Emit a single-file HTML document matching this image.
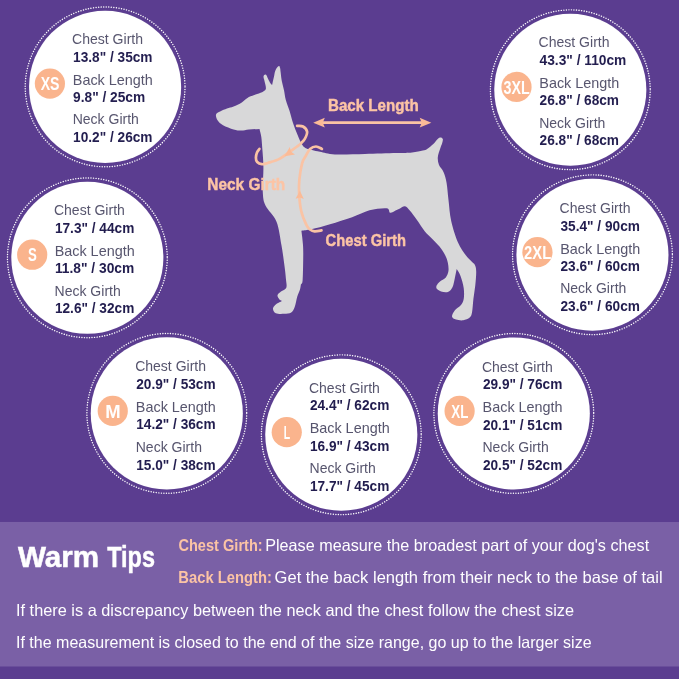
<!DOCTYPE html>
<html lang="en"><head><meta charset="utf-8"><title>Dog Size Chart</title>
<style>
html,body{margin:0;padding:0;background:#5b3d90;}
body{width:679px;height:679px;overflow:hidden;}
svg{display:block}
text{font-family:"Liberation Sans",Arial,sans-serif;}
.lab{font-size:14.4px;fill:#56546d;}
.val{font-size:14px;font-weight:bold;fill:#211c4e;}
.bdg{font-size:17.6px;font-weight:bold;fill:#fff;text-anchor:middle;}
.pk{font-weight:bold;fill:#fcc4a5;}
.dl{font-size:16.8px;stroke:#fcc4a5;stroke-width:0.45px;}
.tip{font-size:16.5px;fill:#fff;}
</style></head><body>
<svg width="679" height="679" viewBox="0 0 679 679" style="will-change:transform;transform:rotate(0.003deg)">
<rect width="679" height="679" fill="#5b3d90"/>
<path d="M215.9,115.3C215.9,114.0 216.7,113.5 217.5,112.8C218.3,112.1 219.0,111.9 220.6,111.2C222.2,110.5 224.8,109.4 227.0,108.6C229.2,107.8 231.1,107.5 233.6,106.5C236.1,105.5 239.2,104.0 241.8,102.4C244.4,100.8 246.3,98.5 248.9,97.1C251.5,95.7 254.7,95.0 257.1,94.0C259.5,93.0 261.8,92.3 263.3,91.4C264.8,90.5 265.7,90.2 265.9,88.6C266.1,86.9 265.0,83.4 264.6,81.5C264.2,79.6 263.6,78.2 263.5,77.1C263.4,76.0 263.9,75.5 264.2,75.0C264.5,74.5 265.1,74.3 265.5,74.4C265.9,74.5 266.2,74.9 266.6,75.5C267.0,76.1 267.1,76.8 267.7,78.0C268.2,79.2 269.2,81.2 269.9,82.4C270.6,83.6 271.4,84.1 272.1,85.0C272.7,82.4 273.4,79.4 273.9,77.1C274.4,74.8 274.6,72.5 275.2,70.9C275.8,69.3 276.6,68.1 277.3,67.3C278.0,66.5 278.7,65.8 279.2,66.0C279.7,66.2 279.9,67.4 280.2,68.5C280.4,69.6 280.4,70.5 280.7,72.7C281.0,74.9 281.3,78.6 281.9,81.5C282.4,84.4 283.4,87.2 284.0,90.3C284.6,93.4 284.9,96.6 285.8,100.0C286.7,103.4 288.3,106.9 289.5,110.7C290.7,114.5 291.7,119.0 293.0,123.0C294.3,127.0 295.7,130.6 297.4,134.5C299.1,138.4 301.0,143.9 303.4,146.5C305.8,149.1 309.2,149.1 312.0,150.0C314.8,150.9 316.2,151.1 320.0,151.8C323.8,152.5 327.5,154.0 335.0,154.4C342.5,154.8 354.8,154.2 365.0,154.0C375.2,153.8 388.5,153.4 396.3,153.1C404.1,152.8 407.6,152.8 412.0,152.4C416.4,152.0 420.3,151.2 422.8,150.6C425.3,150.0 425.4,150.1 427.1,149.0C428.9,147.9 431.5,145.6 433.3,143.9C435.1,142.2 436.5,140.0 437.7,138.9C438.9,137.8 439.8,137.5 440.6,137.5C441.5,137.5 442.5,138.1 442.8,139.0C443.1,139.9 442.6,141.4 442.2,143.0C441.8,144.6 441.0,145.9 440.3,148.3C439.6,150.7 438.0,154.4 437.8,157.2C437.6,160.0 438.0,162.6 439.0,165.1C440.0,167.6 442.3,169.2 443.6,172.2C444.9,175.2 445.8,178.4 446.6,183.0C447.4,187.6 447.7,193.7 448.5,200.0C449.3,206.3 449.6,213.9 451.2,221.0C452.8,228.1 455.5,236.7 458.0,242.4C460.5,248.2 463.7,252.3 466.0,255.5C468.3,258.7 470.1,259.9 471.6,261.5C473.1,263.1 474.0,263.2 474.8,264.8C475.6,266.4 476.1,267.9 476.2,271.3C476.3,274.7 475.8,280.6 475.3,285.2C474.8,289.8 473.9,294.6 473.4,299.1C472.9,303.6 472.7,309.0 472.1,312.1C471.5,315.2 471.2,316.2 469.7,317.6C468.2,319.0 465.5,320.0 463.2,320.3C460.9,320.6 457.9,320.2 456.0,319.6C454.1,319.0 452.2,318.1 452.0,316.5C451.8,314.9 453.5,312.0 454.9,310.2C456.3,308.4 459.0,307.5 460.5,305.6C462.0,303.8 463.2,302.0 463.7,299.1C464.2,296.2 464.2,291.9 463.7,288.0C463.2,284.1 461.7,279.1 460.5,275.9C459.3,272.7 458.0,271.3 456.7,269.0C456.1,271.9 455.6,274.8 454.9,277.8C454.2,280.8 453.7,284.7 452.6,287.0C451.5,289.3 450.2,290.9 448.4,291.7C446.6,292.5 443.9,292.2 442.0,291.8C440.1,291.4 437.9,290.0 437.0,289.0C436.1,288.0 436.1,286.9 436.6,285.6C437.1,284.4 438.5,282.8 440.0,281.5C441.5,280.2 444.2,279.5 445.6,277.8C447.0,276.1 448.0,273.8 448.4,271.3C448.8,268.8 448.4,265.6 447.9,263.0C447.4,260.4 446.7,258.1 445.3,255.4C443.9,252.7 441.8,249.5 439.5,246.6C437.2,243.7 433.8,240.6 431.3,238.0C428.8,235.4 427.1,234.4 424.7,231.3C422.2,228.2 419.1,223.0 416.6,219.6C414.2,216.2 411.9,213.0 410.0,210.8C408.1,208.6 406.7,206.7 405.0,206.3C403.3,205.9 401.6,207.7 400.0,208.4C398.4,209.1 397.1,209.8 395.5,210.5C393.9,211.2 391.6,213.2 390.1,212.8C388.6,212.4 390.0,208.7 386.6,208.3C383.2,207.9 375.2,208.8 369.5,210.3C363.8,211.8 358.7,214.9 352.1,217.2C345.5,219.5 336.8,222.2 330.0,224.2C323.2,226.2 316.1,228.2 311.3,229.3C306.5,230.4 304.7,230.2 301.4,230.7C301.9,235.4 302.7,240.2 303.0,245.0C303.3,249.8 303.3,253.6 303.2,259.5C303.1,265.4 303.0,276.4 302.6,280.6C302.2,284.8 301.5,283.3 300.9,284.6C300.6,286.2 300.6,287.4 300.0,289.4C299.4,291.4 298.2,293.6 297.3,296.5C296.4,299.4 295.7,304.5 294.7,307.1C293.7,309.8 293.0,311.3 291.2,312.4C289.4,313.5 286.7,313.7 284.1,313.8C281.5,313.9 277.7,314.1 275.8,313.2C273.9,312.3 272.8,309.9 273.0,308.3C273.2,306.7 275.5,304.8 277.0,303.6C278.5,302.4 280.3,301.8 281.9,300.9C281.0,300.3 279.9,300.1 279.2,299.2C278.5,298.2 277.2,296.5 277.5,295.2C277.8,293.9 279.5,292.9 281.0,291.6C282.5,290.4 285.5,289.8 286.3,287.7C287.1,285.6 286.2,282.4 285.9,278.8C285.6,275.2 285.2,271.5 284.5,266.0C283.8,260.5 282.8,253.0 281.5,245.6C280.2,238.2 279.1,228.3 276.5,221.7C273.9,215.1 267.9,210.7 265.6,205.8C263.3,200.9 263.2,199.0 262.8,192.5C262.4,186.0 263.5,174.1 263.4,167.0C263.3,159.9 262.8,155.0 262.4,150.0C262.0,145.0 261.8,140.6 261.3,137.1C260.8,133.6 260.1,131.6 259.5,128.9C256.0,129.1 252.0,129.2 248.9,129.5C245.8,129.8 243.8,130.6 241.2,130.6C238.6,130.6 236.6,130.4 233.6,129.5C230.6,128.6 225.7,126.8 223.0,125.3C220.3,123.8 218.9,122.3 217.7,120.6C216.5,118.9 215.9,116.6 215.9,115.3Z" fill="#d8d8d9"/>
<g fill="none" stroke="#fac3a4" stroke-width="2.7" stroke-linecap="round" stroke-linejoin="round">
<path d="M297.1,125.9C298.1,126.0 301.3,125.5 303.0,126.5C304.7,127.5 306.8,129.7 307.1,131.8C307.4,133.9 305.9,136.9 304.8,138.9C303.7,140.9 302.0,142.3 300.7,143.6C299.4,144.9 299.1,145.0 297.1,146.5C295.1,148.0 291.8,150.3 288.9,152.4C286.0,154.5 283.0,157.1 279.5,158.9C276.0,160.7 270.6,162.1 267.7,163.0C264.8,163.9 263.6,164.4 261.8,164.2C260.1,164.0 258.2,163.1 257.2,162.0C256.2,160.9 255.9,159.3 255.9,157.7C255.9,156.1 256.4,154.0 257.0,152.5C257.6,151.0 259.0,149.5 259.4,148.9"/>
<path d="M321.9,148.9C320.9,148.5 318.0,146.5 316.0,146.5C314.0,146.5 311.9,147.2 310.1,148.9C308.3,150.6 306.7,154.1 305.4,156.5C304.1,158.9 303.1,159.5 302.1,163.3C301.1,167.1 299.9,174.2 299.4,179.2C298.9,184.2 298.8,188.0 299.1,193.3C299.4,198.6 300.0,205.7 301.2,211.0C302.4,216.3 305.0,222.0 306.5,225.1C308.0,228.2 308.7,228.5 310.0,229.5C311.3,230.5 312.6,231.2 314.5,231.3C316.4,231.5 320.3,230.6 321.5,230.4"/>
<path d="M320,122.7H425" stroke-width="2.8" stroke-linecap="butt"/>
</g>
<g fill="#fbbb97">
<path d="M313.2,122.7L324.8,117.8L322.8,122.7L324.8,127.6Z"/>
<path d="M431.3,122.7L419.7,127.6L421.7,122.7L419.7,117.8Z"/>
<path d="M284.6,156.3L289.7,147.1L291.1,151.7L295.0,154.6Z"/>
<path d="M299.9,190.8L303.8,198.9L299.8,197.6L295.6,198.7Z"/>
</g>
<text class="pk dl" x="328" y="110.8" textLength="90.8" lengthAdjust="spacingAndGlyphs">Back Length</text>
<text class="pk dl" x="207.3" y="189.5" textLength="77.9" lengthAdjust="spacingAndGlyphs">Neck Girth</text>
<text class="pk dl" x="325.6" y="245.9" textLength="80.3" lengthAdjust="spacingAndGlyphs">Chest Girth</text>
<rect x="0" y="522" width="679" height="144.5" fill="#7a60a6"/>
<circle cx="105.1" cy="86.9" r="79.9" fill="none" stroke="#fff" stroke-width="1.45" stroke-linecap="round" stroke-dasharray="0.01 2.555"/>
<circle cx="105.1" cy="86.9" r="76.05" fill="#fff"/>
<circle cx="49.9" cy="83.6" r="15.1" fill="#fab48d"/>
<text class="bdg" x="50.10" y="90.30" textLength="18.8" lengthAdjust="spacingAndGlyphs">XS</text>
<text class="lab" x="72.10" y="43.9" textLength="70.9" lengthAdjust="spacingAndGlyphs">Chest Girth</text>
<text class="lab" x="72.80" y="84.6" textLength="80.0" lengthAdjust="spacingAndGlyphs">Back Length</text>
<text class="lab" x="72.70" y="124.4" textLength="66.2" lengthAdjust="spacingAndGlyphs">Neck Girth</text>
<text class="val" x="73.1" y="61.7" textLength="79.4" lengthAdjust="spacingAndGlyphs">13.8&quot; / 35cm</text>
<text class="val" x="73.1" y="101.8" textLength="72.1" lengthAdjust="spacingAndGlyphs">9.8&quot; / 25cm</text>
<text class="val" x="73.1" y="142.2" textLength="79.4" lengthAdjust="spacingAndGlyphs">10.2&quot; / 26cm</text>
<circle cx="87.35" cy="257.8" r="79.9" fill="none" stroke="#fff" stroke-width="1.45" stroke-linecap="round" stroke-dasharray="0.01 2.555"/>
<circle cx="87.35" cy="257.8" r="76.05" fill="#fff"/>
<circle cx="32.2" cy="254.7" r="15.1" fill="#fab48d"/>
<text class="bdg" x="32.40" y="261.40" textLength="8.8" lengthAdjust="spacingAndGlyphs">S</text>
<text class="lab" x="53.95" y="215.0" textLength="70.9" lengthAdjust="spacingAndGlyphs">Chest Girth</text>
<text class="lab" x="54.65" y="255.7" textLength="80.0" lengthAdjust="spacingAndGlyphs">Back Length</text>
<text class="lab" x="54.55" y="295.5" textLength="66.2" lengthAdjust="spacingAndGlyphs">Neck Girth</text>
<text class="val" x="54.9" y="232.8" textLength="79.4" lengthAdjust="spacingAndGlyphs">17.3&quot; / 44cm</text>
<text class="val" x="54.9" y="272.9" textLength="79.4" lengthAdjust="spacingAndGlyphs">11.8&quot; / 30cm</text>
<text class="val" x="54.9" y="313.4" textLength="79.4" lengthAdjust="spacingAndGlyphs">12.6&quot; / 32cm</text>
<circle cx="166.8" cy="413.4" r="79.9" fill="none" stroke="#fff" stroke-width="1.45" stroke-linecap="round" stroke-dasharray="0.01 2.555"/>
<circle cx="166.8" cy="413.4" r="76.05" fill="#fff"/>
<circle cx="112.75" cy="410.9" r="15.1" fill="#fab48d"/>
<text class="bdg" x="112.95" y="417.60" textLength="15.4" lengthAdjust="spacingAndGlyphs">M</text>
<text class="lab" x="135.15" y="371.2" textLength="70.9" lengthAdjust="spacingAndGlyphs">Chest Girth</text>
<text class="lab" x="135.85" y="411.9" textLength="80.0" lengthAdjust="spacingAndGlyphs">Back Length</text>
<text class="lab" x="135.75" y="451.7" textLength="66.2" lengthAdjust="spacingAndGlyphs">Neck Girth</text>
<text class="val" x="136.2" y="389.0" textLength="79.4" lengthAdjust="spacingAndGlyphs">20.9&quot; / 53cm</text>
<text class="val" x="136.2" y="429.1" textLength="79.4" lengthAdjust="spacingAndGlyphs">14.2&quot; / 36cm</text>
<text class="val" x="136.2" y="469.6" textLength="79.4" lengthAdjust="spacingAndGlyphs">15.0&quot; / 38cm</text>
<circle cx="341.3" cy="434.75" r="79.9" fill="none" stroke="#fff" stroke-width="1.45" stroke-linecap="round" stroke-dasharray="0.01 2.555"/>
<circle cx="341.3" cy="434.75" r="76.05" fill="#fff"/>
<circle cx="286.75" cy="432.15" r="15.1" fill="#fab48d"/>
<text class="bdg" x="286.95" y="438.85" textLength="6.4" lengthAdjust="spacingAndGlyphs">L</text>
<text class="lab" x="308.95" y="392.6" textLength="70.9" lengthAdjust="spacingAndGlyphs">Chest Girth</text>
<text class="lab" x="309.65" y="433.3" textLength="80.0" lengthAdjust="spacingAndGlyphs">Back Length</text>
<text class="lab" x="309.55" y="473.1" textLength="66.2" lengthAdjust="spacingAndGlyphs">Neck Girth</text>
<text class="val" x="309.9" y="410.4" textLength="79.4" lengthAdjust="spacingAndGlyphs">24.4&quot; / 62cm</text>
<text class="val" x="309.9" y="450.6" textLength="79.4" lengthAdjust="spacingAndGlyphs">16.9&quot; / 43cm</text>
<text class="val" x="309.9" y="491.1" textLength="79.4" lengthAdjust="spacingAndGlyphs">17.7&quot; / 45cm</text>
<circle cx="513.8" cy="413.45" r="79.9" fill="none" stroke="#fff" stroke-width="1.45" stroke-linecap="round" stroke-dasharray="0.01 2.555"/>
<circle cx="513.8" cy="413.45" r="76.05" fill="#fff"/>
<circle cx="459.6" cy="410.9" r="15.1" fill="#fab48d"/>
<text class="bdg" x="459.80" y="417.60" textLength="17.1" lengthAdjust="spacingAndGlyphs">XL</text>
<text class="lab" x="481.90" y="371.6" textLength="70.9" lengthAdjust="spacingAndGlyphs">Chest Girth</text>
<text class="lab" x="482.60" y="412.3" textLength="80.0" lengthAdjust="spacingAndGlyphs">Back Length</text>
<text class="lab" x="482.50" y="452.1" textLength="66.2" lengthAdjust="spacingAndGlyphs">Neck Girth</text>
<text class="val" x="482.9" y="389.4" textLength="79.4" lengthAdjust="spacingAndGlyphs">29.9&quot; / 76cm</text>
<text class="val" x="482.9" y="429.6" textLength="79.4" lengthAdjust="spacingAndGlyphs">20.1&quot; / 51cm</text>
<text class="val" x="482.9" y="470.1" textLength="79.4" lengthAdjust="spacingAndGlyphs">20.5&quot; / 52cm</text>
<circle cx="592.45" cy="254.75" r="79.9" fill="none" stroke="#fff" stroke-width="1.45" stroke-linecap="round" stroke-dasharray="0.01 2.555"/>
<circle cx="592.45" cy="254.75" r="76.05" fill="#fff"/>
<circle cx="537.45" cy="252.15" r="15.1" fill="#fab48d"/>
<text class="bdg" x="537.65" y="258.85" textLength="27.1" lengthAdjust="spacingAndGlyphs">2XL</text>
<text class="lab" x="559.55" y="212.8" textLength="70.9" lengthAdjust="spacingAndGlyphs">Chest Girth</text>
<text class="lab" x="560.25" y="253.5" textLength="80.0" lengthAdjust="spacingAndGlyphs">Back Length</text>
<text class="lab" x="560.15" y="293.2" textLength="66.2" lengthAdjust="spacingAndGlyphs">Neck Girth</text>
<text class="val" x="560.5" y="230.6" textLength="79.4" lengthAdjust="spacingAndGlyphs">35.4&quot; / 90cm</text>
<text class="val" x="560.5" y="270.7" textLength="79.4" lengthAdjust="spacingAndGlyphs">23.6&quot; / 60cm</text>
<text class="val" x="560.5" y="311.2" textLength="79.4" lengthAdjust="spacingAndGlyphs">23.6&quot; / 60cm</text>
<circle cx="570.3" cy="89.75" r="79.9" fill="none" stroke="#fff" stroke-width="1.45" stroke-linecap="round" stroke-dasharray="0.01 2.555"/>
<circle cx="570.3" cy="89.75" r="76.05" fill="#fff"/>
<circle cx="516.5" cy="86.9" r="15.1" fill="#fab48d"/>
<text class="bdg" x="516.70" y="93.60" textLength="26.2" lengthAdjust="spacingAndGlyphs">3XL</text>
<text class="lab" x="538.60" y="47.0" textLength="70.9" lengthAdjust="spacingAndGlyphs">Chest Girth</text>
<text class="lab" x="539.30" y="87.7" textLength="80.0" lengthAdjust="spacingAndGlyphs">Back Length</text>
<text class="lab" x="539.20" y="127.5" textLength="66.2" lengthAdjust="spacingAndGlyphs">Neck Girth</text>
<text class="val" x="539.6" y="64.8" textLength="86.7" lengthAdjust="spacingAndGlyphs">43.3&quot; / 110cm</text>
<text class="val" x="539.6" y="104.9" textLength="79.4" lengthAdjust="spacingAndGlyphs">26.8&quot; / 68cm</text>
<text class="val" x="539.6" y="145.4" textLength="79.4" lengthAdjust="spacingAndGlyphs">26.8&quot; / 68cm</text>
<text y="567.2" font-size="30.4" font-weight="bold" fill="#fff" stroke="#fff" stroke-width="0.5"><tspan x="18.0" textLength="81.2" lengthAdjust="spacingAndGlyphs">Warm</tspan> <tspan x="107.2" textLength="47.8" lengthAdjust="spacingAndGlyphs">Tips</tspan></text>
<text class="tip" y="550.5"><tspan class="pk" x="178.4" textLength="84.3" lengthAdjust="spacingAndGlyphs">Chest Girth:</tspan><tspan x="265.2" textLength="384" lengthAdjust="spacingAndGlyphs">Please measure the broadest part of your dog's chest</tspan></text>
<text class="tip" y="583.1"><tspan class="pk" x="178.3" textLength="93.6" lengthAdjust="spacingAndGlyphs">Back Length:</tspan><tspan x="274.6" textLength="388" lengthAdjust="spacingAndGlyphs">Get the back length from their neck to the base of tail</tspan></text>
<text class="tip" x="16.0" y="615.8" textLength="558" lengthAdjust="spacingAndGlyphs">If there is a discrepancy between the neck and the chest follow the chest size</text>
<text class="tip" x="16.0" y="647.8" textLength="575.6" lengthAdjust="spacingAndGlyphs">If the measurement is closed to the end of the size range, go up to the larger size</text>
</svg>
</body></html>
